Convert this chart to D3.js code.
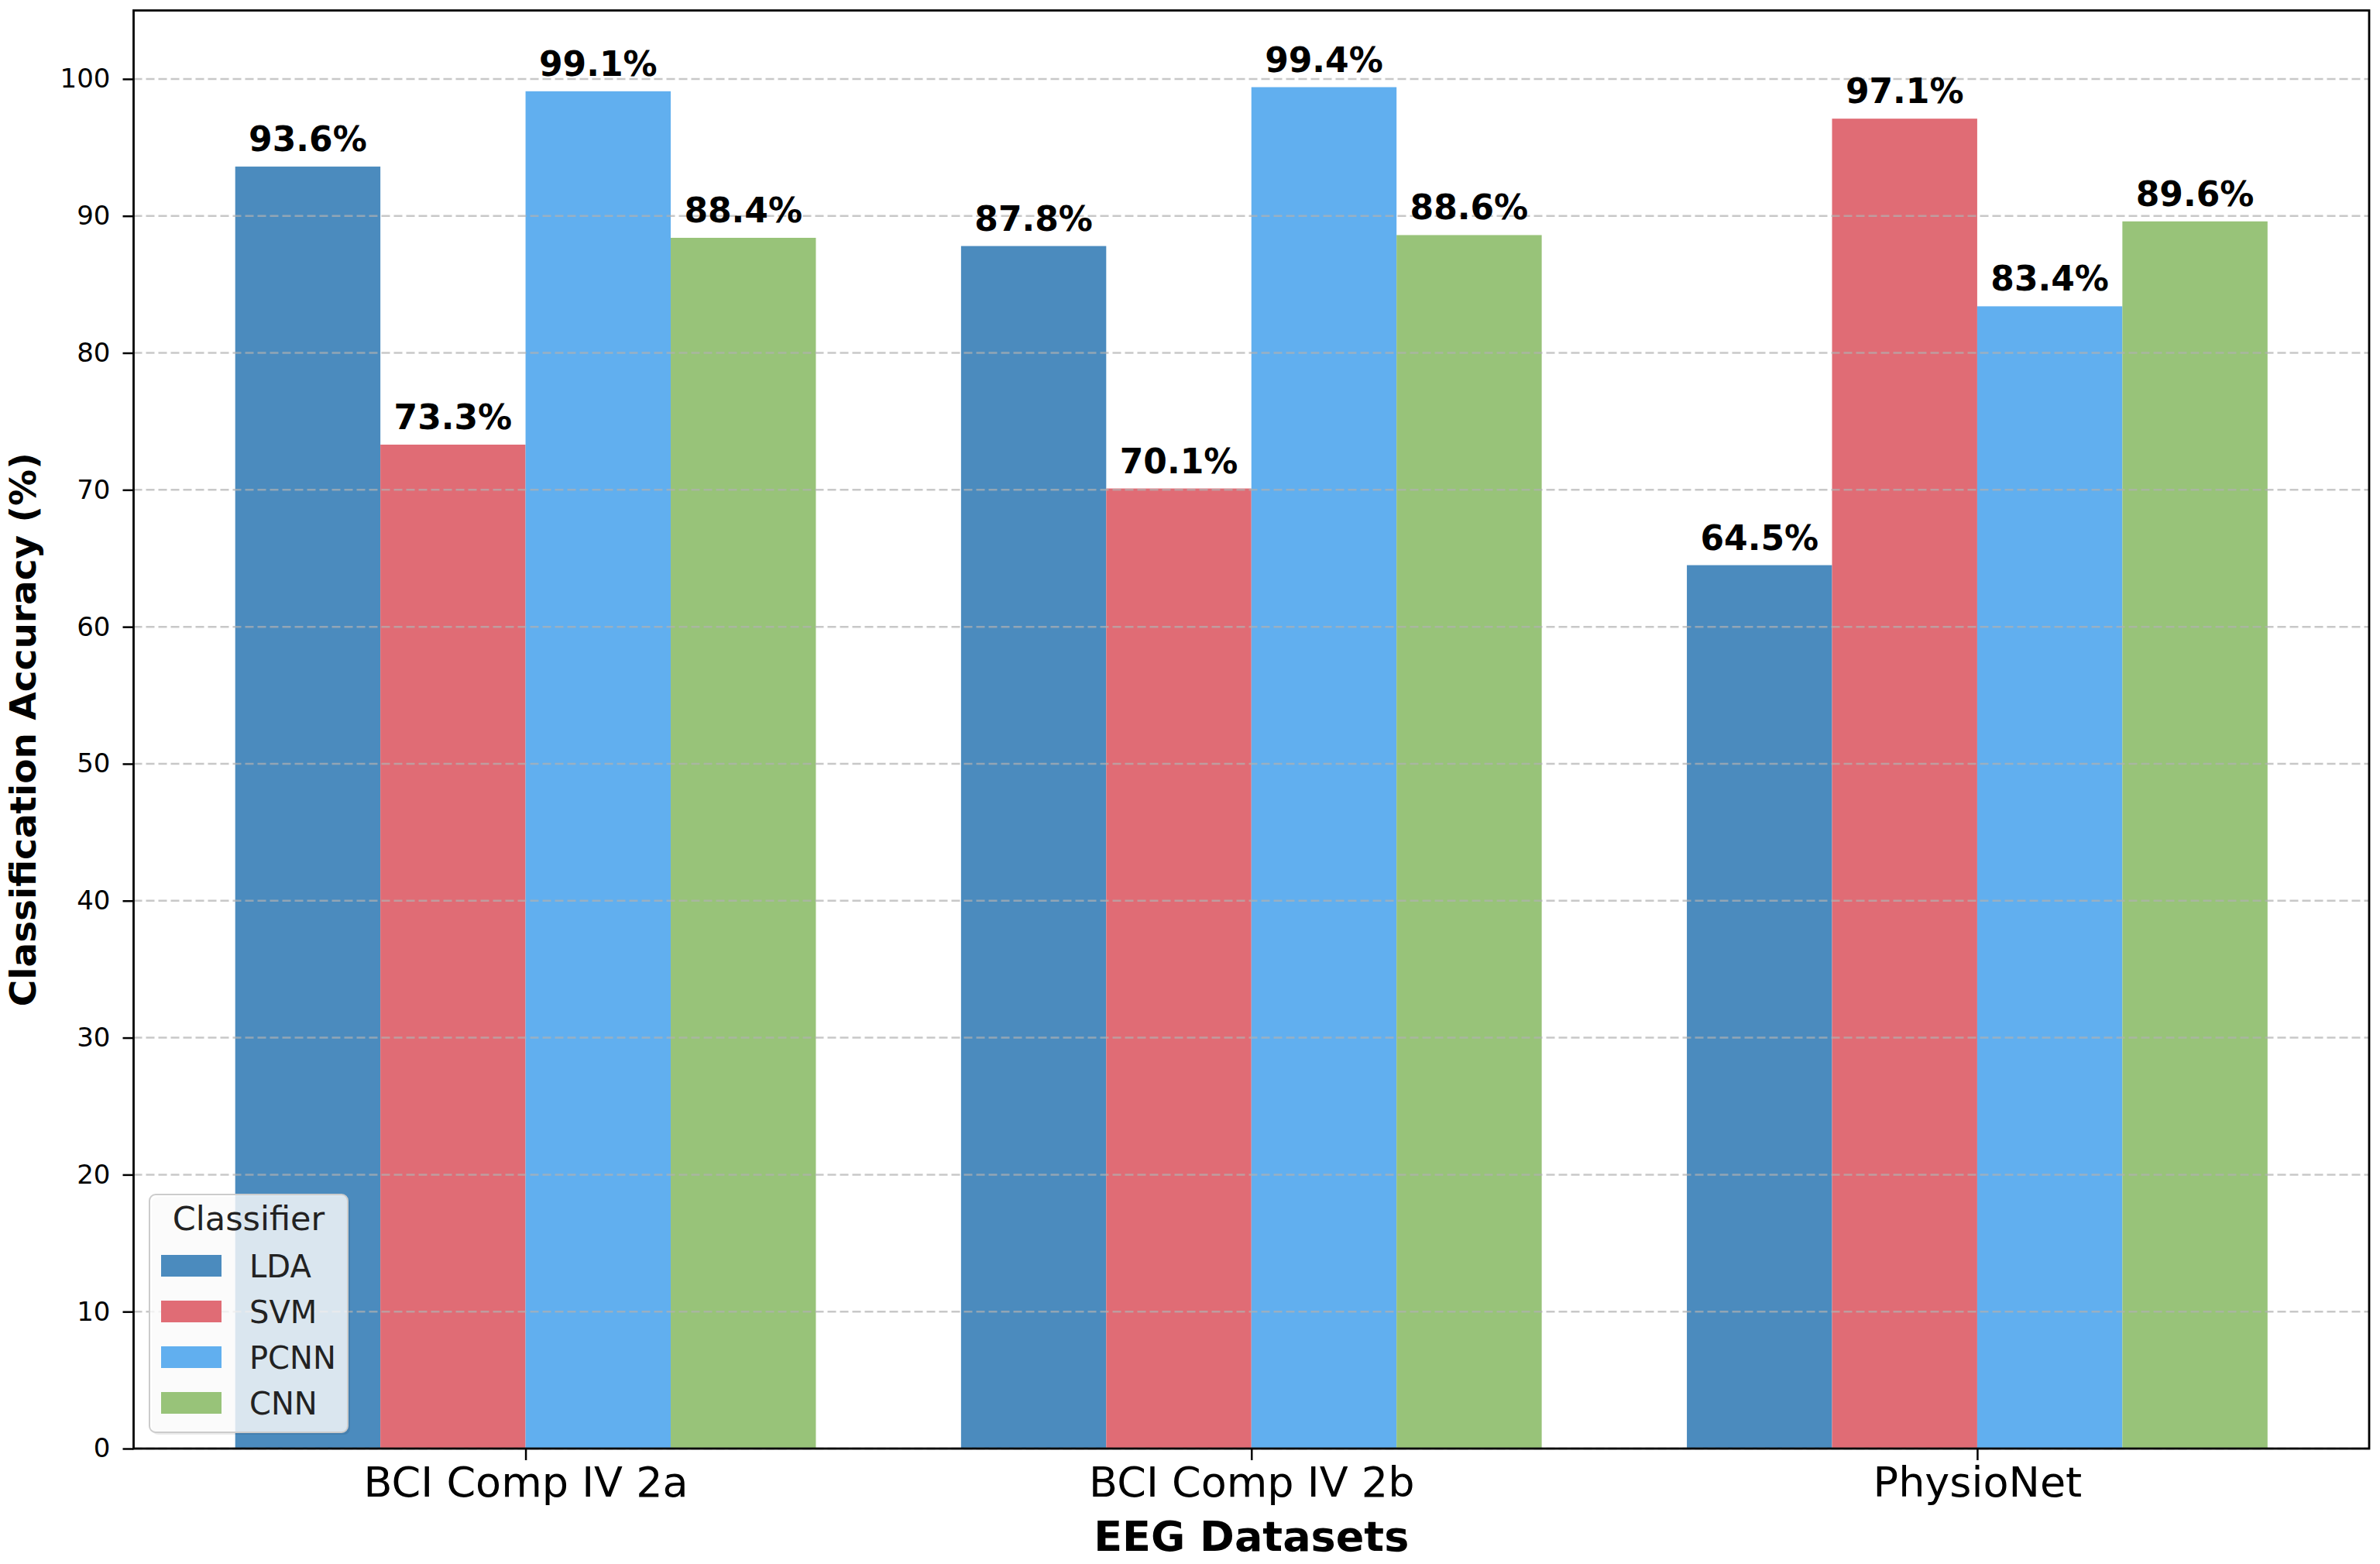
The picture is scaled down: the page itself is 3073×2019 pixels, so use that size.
<!DOCTYPE html>
<html>
<head>
<meta charset="utf-8">
<script src="https://cdn.jsdelivr.net/npm/d3@7"></script>
<style>
  body { margin: 0; background: #fff; }
  svg { display: block; font-family: "DejaVu Sans", sans-serif; }
</style>
</head>
<body>
<svg id="chart"></svg>
<script>
// data
const datasets = ["BCI Comp IV 2a", "BCI Comp IV 2b", "PhysioNet"]
const classifiers = ["LDA", "SVM", "PCNN", "CNN"]
const ldaAcc = [93.6, 87.8, 64.5]
const svmAcc = [73.3, 70.1, 97.1]
const pcnnAcc = [99.1, 99.4, 83.4]
const cnnAcc = [88.4, 88.6, 89.6]
const yTickValues = [0, 10, 20, 30, 40, 50, 60, 70, 80, 90, 100]
const colors = ["#4b8bbe", "#e06c75", "#61afef", "#98c379"]

const series = [ldaAcc, svmAcc, pcnnAcc, cnnAcc]

const width = 3073, height = 2019
const margin = { left: 172.5, right: 3073 - 3059, top: 13.5, bottom: 2019 - 1870 }
const barW = 0.2

let svg = d3.select("#chart")
  .attr("width", width)
  .attr("height", height)

let x = d3.scaleLinear()
  .domain([-0.54, datasets.length - 1 + 0.54])
  .range([margin.left, width - margin.right])

let y = d3.scaleLinear()
  .domain([0, 105])
  .range([height - margin.bottom, margin.top])

// flatten into bar records
let bars = []
datasets.forEach((ds, i) => {
  series.forEach((vals, j) => {
    bars.push({ ds, i, j, name: classifiers[j], value: vals[i] })
  })
})

let g = svg.append("g")

g.selectAll(".bar")
  .data(bars)
  .enter()
  .append("rect")
  .attr("class", "bar")
  .attr("x", d => x(d.i + (d.j - 1.5) * barW - barW / 2))
  .attr("width", d => x(barW) - x(0))
  .attr("y", d => y(d.value))
  .attr("height", d => y(0) - y(d.value))
  .attr("fill", d => colors[d.j])

// grid (drawn over bars, like matplotlib)
g.append("g")
  .selectAll("line")
  .data(yTickValues)
  .enter()
  .append("line")
  .attr("x1", x.range()[0])
  .attr("x2", x.range()[1])
  .attr("y1", d => y(d))
  .attr("y2", d => y(d))
  .attr("stroke", "#b0b0b0")
  .attr("stroke-opacity", 0.7)
  .attr("stroke-width", 2.5)
  .attr("stroke-dasharray", "11,5")

// value labels
g.selectAll(".vlabel")
  .data(bars)
  .enter()
  .append("text")
  .attr("class", "vlabel")
  .attr("x", d => x(d.i + (d.j - 1.5) * barW))
  .attr("y", d => y(d.value) - 20)
  .attr("text-anchor", "middle")
  .style("font-size", "44px")
  .style("font-weight", "bold")
  .text(d => d.value.toFixed(1) + "%")

// axes
let yAxis = g.append("g")
  .attr("transform", `translate(${margin.left},0)`)
  .call(d3.axisLeft(y).tickValues(yTickValues).tickSize(14).tickPadding(16))
yAxis.select(".domain").remove()
yAxis.selectAll(".tick line").attr("stroke", "#000").attr("stroke-width", 2.5)
yAxis.selectAll(".tick text").style("font-size", "34px").attr("fill", "#000")
  .style("font-family", "DejaVu Sans")

let xAxis = g.append("g")
  .attr("transform", `translate(0,${y(0)})`)
  .call(d3.axisBottom(x).tickValues(d3.range(datasets.length))
    .tickFormat(i => datasets[i]).tickSize(15).tickPadding(9))
xAxis.select(".domain").remove()
xAxis.selectAll(".tick line").attr("stroke", "#000").attr("stroke-width", 2.5)
xAxis.selectAll(".tick text").style("font-size", "54px").attr("fill", "#000")
  .style("font-family", "DejaVu Sans")

// frame
g.append("rect")
  .attr("x", x.range()[0])
  .attr("y", y.range()[1])
  .attr("width", x.range()[1] - x.range()[0])
  .attr("height", y.range()[0] - y.range()[1])
  .attr("fill", "none")
  .attr("stroke", "#000")
  .attr("stroke-width", 2.8)

// axis titles
svg.append("text")
  .attr("x", (x.range()[0] + x.range()[1]) / 2)
  .attr("y", 2002)
  .attr("text-anchor", "middle")
  .style("font-size", "54px")
  .style("font-weight", "bold")
  .text("EEG Datasets")

svg.append("text")
  .attr("transform", `translate(46,${(y.range()[0] + y.range()[1]) / 2}) rotate(-90)`)
  .attr("text-anchor", "middle")
  .style("font-size", "47px")
  .style("font-weight", "bold")
  .text("Classification Accuracy (%)")

// legend
let lg = svg.append("g").attr("transform", "translate(193,1542)")
let lw = 256, lh = 307
lg.append("rect")
  .attr("x", 3).attr("y", 3)
  .attr("width", lw).attr("height", lh)
  .attr("rx", 8)
  .attr("fill", "#000").attr("fill-opacity", 0.08)
lg.append("rect")
  .attr("width", lw).attr("height", lh)
  .attr("rx", 8)
  .attr("fill", "#fff").attr("fill-opacity", 0.8)
  .attr("stroke", "#cccccc").attr("stroke-width", 2)
lg.append("text")
  .attr("x", lw / 2)
  .attr("y", 46)
  .attr("text-anchor", "middle")
  .style("font-size", "43px")
  .attr("fill", "#222")
  .text("Classifier")

let items = lg.selectAll(".item")
  .data(classifiers)
  .enter()
  .append("g")
  .attr("class", "item")
  .attr("transform", (d, i) => `translate(0,${92 + i * 59})`)
items.append("rect")
  .attr("x", 15).attr("y", -14)
  .attr("width", 78).attr("height", 28)
  .attr("fill", (d, i) => colors[i])
items.append("text")
  .attr("x", 129)
  .attr("y", 15)
  .style("font-size", "40px")
  .attr("fill", "#222")
  .text(d => d)
</script>
</body>
</html>
